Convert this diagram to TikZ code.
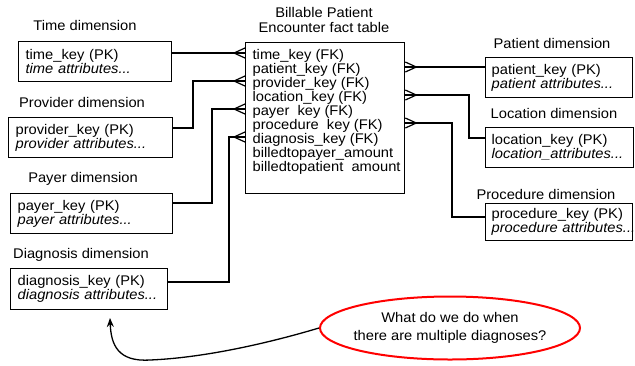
\documentclass[tikz,border=0pt]{standalone}
\usepackage{fontspec}
\setmainfont{Liberation Sans}[FakeStretch=1.05]
\usetikzlibrary{shapes.geometric,arrows.meta}
\newcommand\dimtext[2]{\mbox{#1}\\\mbox{\textit{#2}}}
\begin{document}
\begin{tikzpicture}[x=1pt,y=1pt,
  every node/.style={font=\fontsize{14}{14}\selectfont},
  dimbox/.style={draw, line width=1.3pt, align=left, anchor=north west, inner xsep=7pt, inner ysep=0pt, minimum height=40pt},
  link/.style={line width=1.4pt},
  crowl/.pic={\draw[line width=1.2pt] (-11,0) -- (0,5) (-11,0) -- (0,-5);},
  crowr/.pic={\draw[line width=1.2pt] (11,0) -- (0,5) (11,0) -- (0,-5);}
]
\useasboundingbox (0,0) rectangle (635,-365);

% labels
\node (ltime) at (85,-25) {Time dimension};
\node (lprov) at (82,-102) {Provider dimension};
\node (lpay) at (83,-179) {Payer dimension};
\node (ldiag) at (81,-255) {Diagnosis dimension};
\node (lpat) at (552,-43) {Patient dimension};
\node (lloc) at (554,-113) {Location dimension};
\node (lproc) at (546,-194) {Procedure dimension};
\node[align=center] (lfact) at (324,-20) {Billable Patient\\[1pt]Encounter fact table};

% dimension boxes
\node[dimbox, text width=139pt] (time) at (18,-41) {\dimtext{time\_key (PK)}{time attributes...}};
\node[dimbox, text width=150pt] (provider) at (8,-117) {\dimtext{provider\_key (PK)}{provider attributes...}};
\node[dimbox, text width=148pt] (payer) at (10,-193) {\dimtext{payer\_key (PK)}{payer attributes...}};
\node[dimbox, text width=143pt, minimum height=41pt] (diagnosis) at (10,-268) {\dimtext{diagnosis\_key (PK)}{diagnosis attributes...}};
\node[dimbox, text width=135pt, inner xsep=6pt] (patient) at (485,-57) {\dimtext{patient\_key (PK)}{patient attributes...}};
\node[dimbox, text width=136pt, inner xsep=6pt] (location) at (485,-127) {\dimtext{location\_key (PK)}{location\_attributes...}};
\node[dimbox, text width=135pt, inner xsep=6pt, minimum height=37pt] (procedure) at (485,-203) {\dimtext{procedure\_key (PK)}{procedure attributes...}};

% fact table
\node[draw, line width=1.3pt, anchor=north west, inner xsep=7pt, inner ysep=4pt] (fact) at (245,-42)
  {\parbox[c][143pt][t]{145pt}{\raggedright\vspace*{3pt}%
   \mbox{time\_key (FK)}\\
   \mbox{patient\_key (FK)}\\
   \mbox{provider\_key (FK)}\\
   \mbox{location\_key (FK)}\\
   \mbox{payer\ \ key (FK)}\\
   \mbox{procedure\ \ key (FK)}\\
   \mbox{diagnosis\_key (FK)}\\
   \mbox{billedtopayer\_amount}\\
   \mbox{billedtopatient\ \ amount}}};

% row coordinates
\coordinate (r1) at (0,-53);
\coordinate (r2) at (0,-67);
\coordinate (r3) at (0,-81);
\coordinate (r4) at (0,-95);
\coordinate (r5) at (0,-109);
\coordinate (r6) at (0,-123);
\coordinate (r7) at (0,-137);
\coordinate (pvy) at (0,-128);
\coordinate (pyy) at (0,-203);
\coordinate (dgy) at (0,-282);
\coordinate (lcy) at (0,-138);
\coordinate (pry) at (0,-217);
\coordinate (pvx) at (193,0);
\coordinate (pyx) at (212,0);
\coordinate (dgx) at (229,0);
\coordinate (lcx) at (469,0);
\coordinate (prx) at (452,0);

% left connectors
\draw[link] (time.east |- r1) -- (r1 -| fact.west);
\draw[link] (provider.east |- pvy) -| (pvx |- r3) -- (r3 -| fact.west);
\draw[link] (payer.east |- pyy) -| (pyx |- r5) -- (r5 -| fact.west);
\draw[link] (diagnosis.east |- dgy) -| (dgx |- r7) -- (r7 -| fact.west);
\pic at (r1 -| fact.west) {crowl};
\pic at (r3 -| fact.west) {crowl};
\pic at (r5 -| fact.west) {crowl};
\pic at (r7 -| fact.west) {crowl};

% right connectors
\draw[link] (r2 -| fact.east) -- (patient.west |- r2);
\draw[link] (r4 -| fact.east) -| (lcx |- lcy) -- (location.west |- lcy);
\draw[link] (r6 -| fact.east) -| (prx |- pry) -- (procedure.west |- pry);
\pic at (r2 -| fact.east) {crowr};
\pic at (r4 -| fact.east) {crowr};
\pic at (r6 -| fact.east) {crowr};

% question
\node[ellipse, draw=red, line width=2pt, inner xsep=-30pt, inner ysep=-8pt, minimum width=260pt, minimum height=63pt, align=center] (q) at (450,-328)
  {What do we do when\\[4pt]there are multiple diagnoses?};
\coordinate (tip) at (110,-318);
\draw[line width=1.3pt, -{Stealth[length=9pt,width=7pt]}] (q.west) .. controls (262,-345) and (200,-358) .. (150,-360) .. controls (118,-362) and (111,-345) .. (tip);
\end{tikzpicture}
\end{document}
